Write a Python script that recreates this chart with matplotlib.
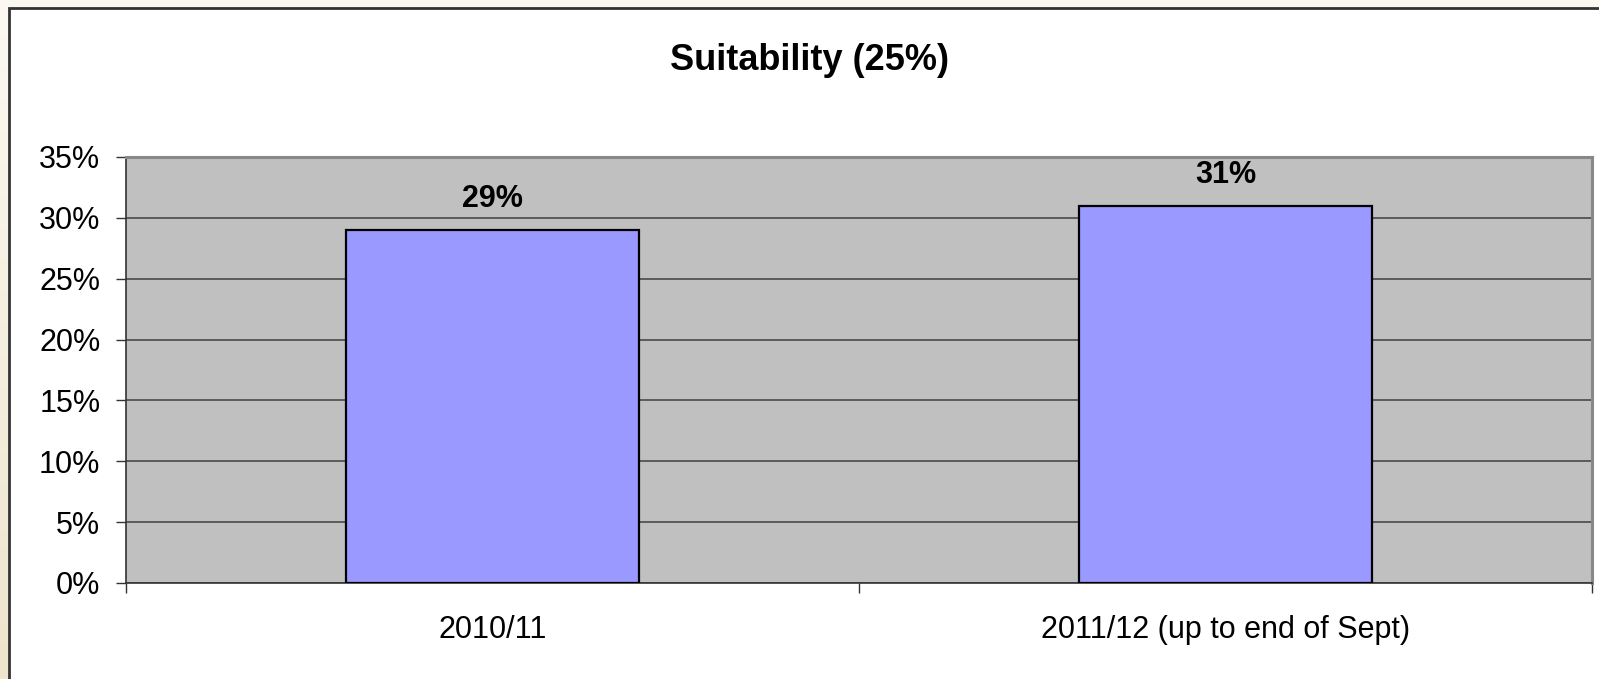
import matplotlib
matplotlib.use("Agg")
import matplotlib.pyplot as plt
import numpy as np
from matplotlib.patches import Rectangle
from matplotlib.ticker import MultipleLocator, FuncFormatter, FixedLocator

# Data
categories = ["2010/11", "2011/12 (up to end of Sept)"]
values = [29, 31]          # percent
value_labels = ["29%", "31%"]
title = "Suitability (25%)"

plt.rcParams["font.family"] = ["Liberation Sans", "DejaVu Sans"]

W, H = 1599, 679
fig = plt.figure(figsize=(W / 100, H / 100), dpi=100)

# Beige slide background with a soft vertical gradient
bg = fig.add_axes([0, 0, 1, 1], zorder=-10)
bg.set_axis_off()
grad = np.linspace(0, 1, 256).reshape(-1, 1)
top_c = np.array([252, 249, 242]) / 255
bot_c = np.array([238, 228, 205]) / 255
img = top_c[None, None, :] * (1 - grad[:, :, None]) + bot_c[None, None, :] * grad[:, :, None]
bg.imshow(img, aspect="auto", extent=[0, 1, 0, 1], origin="upper")
bg.set_xlim(0, 1)
bg.set_ylim(0, 1)

# White chart frame
fig.patches.append(Rectangle((8.5 / W, -0.05), 1.1, (H - 7.5) / H + 0.05,
                             transform=fig.transFigure, facecolor="white",
                             edgecolor="#333333", linewidth=2.0, zorder=-5))

ax = fig.add_axes([126 / W, (H - 583) / H, (1592 - 126) / W, (583 - 157) / H])
ax.set_facecolor("#C0C0C0")

x = np.arange(len(categories))
ax.bar(x, values, width=0.4, color="#9999FF", edgecolor="black", linewidth=1.6, zorder=3)

for xi, v, lab in zip(x, values, value_labels):
    ax.annotate(lab, (xi, v), xytext=(0, 16.5), textcoords="offset points",
                ha="center", va="baseline", fontsize=22, fontweight="bold")

ax.set_xlim(-0.5, len(categories) - 0.5)
ax.set_ylim(0, 35)
ax.yaxis.set_major_locator(MultipleLocator(5))
ax.yaxis.set_major_formatter(FuncFormatter(lambda v, p: f"{int(round(v))}%"))
ax.yaxis.grid(True, color="#4a4a4a", linewidth=1.2, zorder=1)
ax.set_axisbelow(True)

ax.set_xticks(x)
ax.set_xticklabels(categories)
ax.xaxis.set_minor_locator(FixedLocator(np.arange(-0.5, len(categories), 1.0)))
ax.tick_params(axis="x", which="major", length=0, pad=23, labelsize=22)
ax.tick_params(axis="x", which="minor", length=7.5, width=1.0, color="#333333")
ax.tick_params(axis="y", which="major", length=7.5, width=1.0, color="#333333",
               pad=11, labelsize=22)

for s in ["left", "bottom"]:
    ax.spines[s].set_color("#333333")
    ax.spines[s].set_linewidth(1.2)
for s in ["top", "right"]:
    ax.spines[s].set_color("#888888")
    ax.spines[s].set_linewidth(2.2)

fig.text(810 / W, 1 - 60 / H, title, ha="center", va="center",
         fontsize=26, fontweight="bold")

fig.savefig("out.png", dpi=100)
